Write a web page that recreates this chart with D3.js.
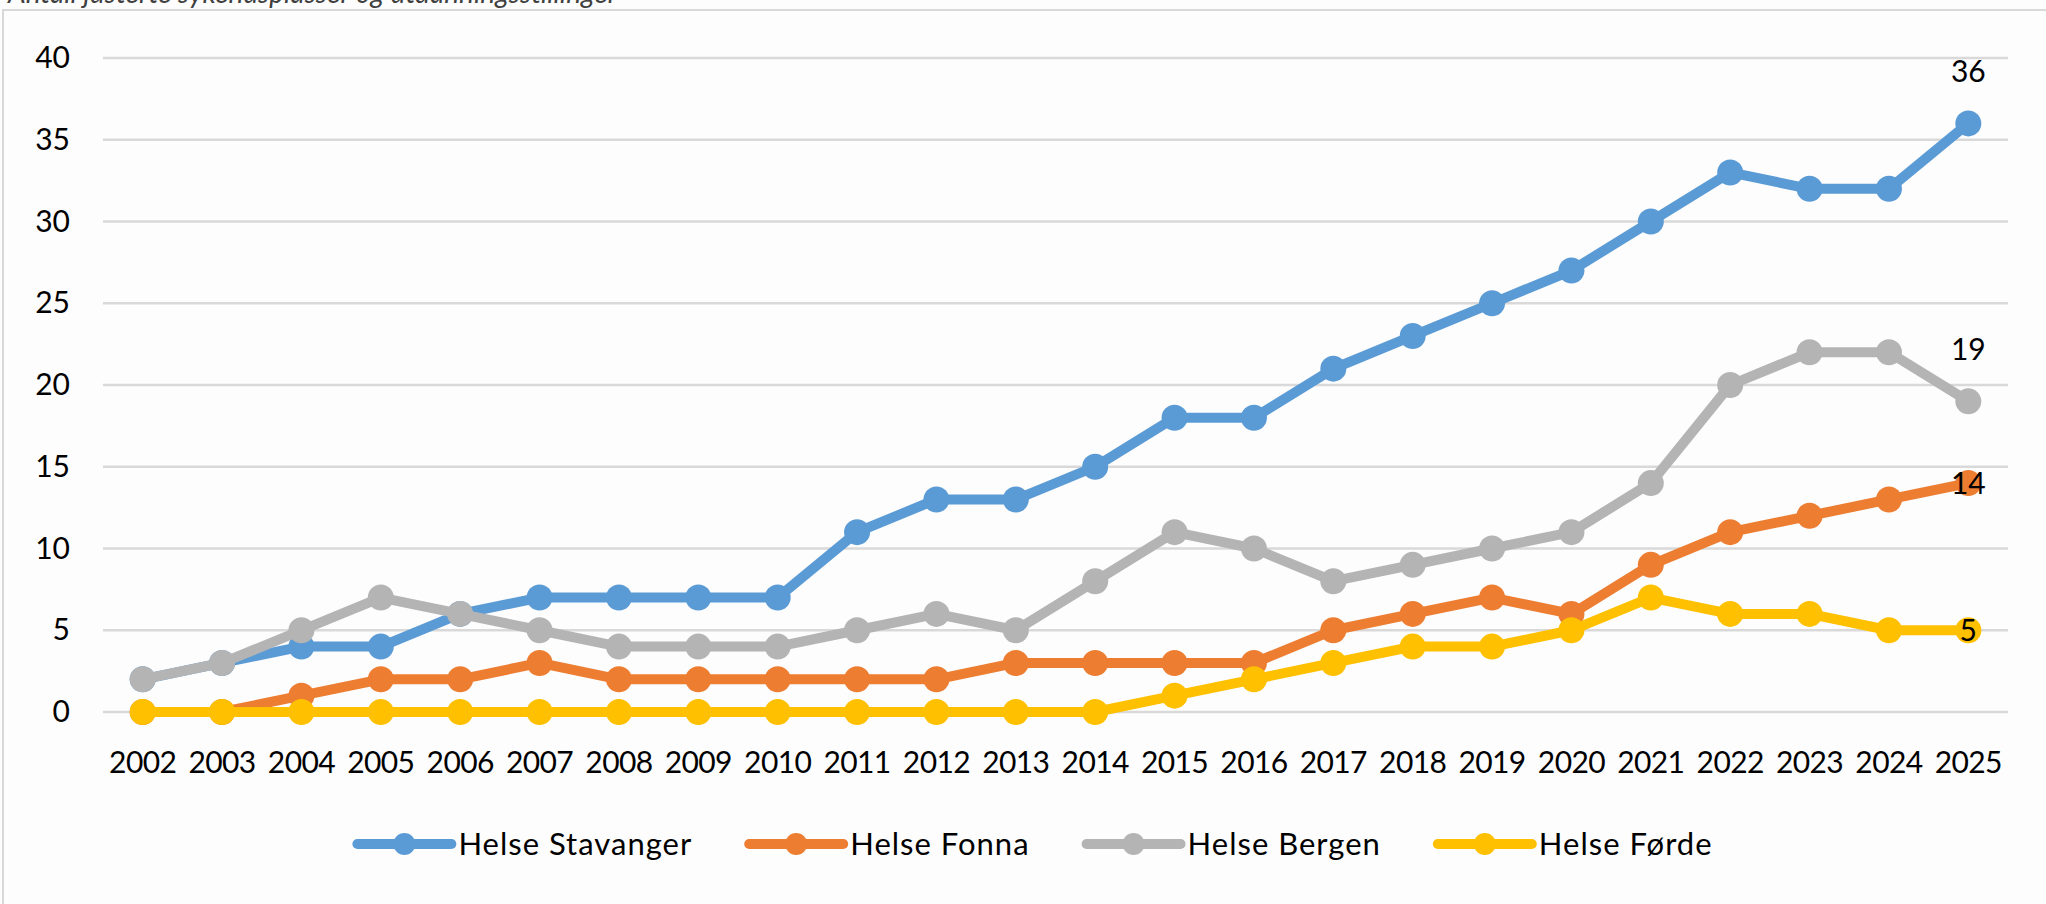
<!DOCTYPE html>
<html>
<head>
<meta charset="utf-8">
<script src="https://cdn.jsdelivr.net/npm/d3@7"></script>
<style>
  body { margin: 0; background: #fdfdfd; }
  svg text { font-family: Lato, "Open Sans", sans-serif; fill: #000; }
</style>
</head>
<body>
<div id="chart"></div>
<script>
// Chart size
const width = 2046;
const height = 904;
const margin = {left: 103, right: 38, top: 58, bottom: 192};

// Data
const years = ["2002","2003","2004","2005","2006","2007","2008","2009","2010","2011","2012","2013",
               "2014","2015","2016","2017","2018","2019","2020","2021","2022","2023","2024","2025"];
const stavanger = [2,3,4,4,6,7,7,7,7,11,13,13,15,18,18,21,23,25,27,30,33,32,32,36];
const fonna     = [0,0,1,2,2,3,2,2,2,2,2,3,3,3,3,5,6,7,6,9,11,12,13,14];
const bergen    = [2,3,5,7,6,5,4,4,4,5,6,5,8,11,10,8,9,10,11,14,20,22,22,19];
const forde     = [0,0,0,0,0,0,0,0,0,0,0,0,0,1,2,3,4,4,5,7,6,6,5,5];
const yTicks = [0,5,10,15,20,25,30,35,40];

const series = [
  {name: "Helse Stavanger", values: stavanger, color: "#5b9bd5", labelPos: "above"},
  {name: "Helse Fonna",     values: fonna,     color: "#ed7d31", labelPos: "center"},
  {name: "Helse Bergen",    values: bergen,    color: "#b4b4b4", labelPos: "above"},
  {name: "Helse Førde",     values: forde,     color: "#ffc000", labelPos: "center"}
];

const svg = d3.select("#chart")
  .append("svg")
  .attr("width", width)
  .attr("height", height);

// outer frame (only left and top edge are on screen)
svg.append("rect")
  .attr("x", 3).attr("y", 10)
  .attr("width", width + 10).attr("height", height + 10)
  .attr("fill", "#fdfdfd")
  .attr("stroke", "#d9d9d9")
  .attr("stroke-width", 2);

// caption, cut off at the top like in the source screenshot
svg.append("text")
  .attr("x", 8).attr("y", 3)
  .attr("font-size", "28px")
  .attr("font-style", "italic")
  .style("fill", "#404040")
  .text("Antall justerte sykehusplasser og utdanningsstillinger");

// Scales
const xScale = d3.scaleBand()
  .domain(years)
  .range([margin.left, width - margin.right])
  .padding(0);
const xPos = d => xScale(d) + xScale.bandwidth() / 2;

const yScale = d3.scaleLinear()
  .domain([0, 40])
  .range([height - margin.bottom, margin.top]);

// Gridlines
svg.append("g")
  .selectAll("line")
  .data(yTicks)
  .enter()
  .append("line")
  .attr("x1", margin.left)
  .attr("x2", width - margin.right)
  .attr("y1", d => yScale(d))
  .attr("y2", d => yScale(d))
  .attr("stroke", "#d9d9d9")
  .attr("stroke-width", 2.5);

// Y axis labels
const yAxis = svg.append("g")
  .attr("transform", `translate(${margin.left - 33}, 0)`)
  .call(d3.axisLeft(yScale).tickValues(yTicks).tickSize(0).tickPadding(0));
yAxis.select(".domain").remove();
yAxis.selectAll("text")
  .attr("font-size", "30px")
  .attr("font-family", "Lato, sans-serif");

// X axis labels
const xAxis = svg.append("g")
  .attr("transform", `translate(0, ${height - margin.bottom + 40})`)
  .call(d3.axisBottom(xScale).tickSize(0).tickPadding(0));
xAxis.select(".domain").remove();
xAxis.selectAll("text")
  .attr("font-size", "30px")
  .attr("font-family", "Lato, sans-serif")
  .attr("letter-spacing", "-0.6px");

// Lines and markers
const line = d3.line()
  .x((d, i) => xPos(years[i]))
  .y(d => yScale(d));

series.forEach(s => {
  const g = svg.append("g");
  g.append("path")
    .datum(s.values)
    .attr("d", line)
    .attr("fill", "none")
    .attr("stroke", s.color)
    .attr("stroke-width", 10)
    .attr("stroke-linejoin", "round");
  g.selectAll("circle")
    .data(s.values)
    .enter()
    .append("circle")
    .attr("cx", (d, i) => xPos(years[i]))
    .attr("cy", d => yScale(d))
    .attr("r", 13)
    .attr("fill", s.color);
});

// End labels
series.forEach(s => {
  const last = s.values[s.values.length - 1];
  svg.append("text")
    .attr("x", xPos(years[years.length - 1]))
    .attr("y", yScale(last) + (s.labelPos === "above" ? -41 : 11))
    .attr("text-anchor", "middle")
    .attr("font-size", "30px")
    .text(last);
});

// Legend
const legendY = 844;
const legend = svg.append("g");
let lx = 0;
series.forEach(s => {
  const item = legend.append("g").attr("transform", `translate(${lx}, 0)`);
  item.append("line")
    .attr("x1", 0).attr("x2", 94)
    .attr("y1", legendY).attr("y2", legendY)
    .attr("stroke", s.color)
    .attr("stroke-width", 10)
    .attr("stroke-linecap", "round");
  item.append("circle")
    .attr("cx", 47).attr("cy", legendY)
    .attr("r", 11)
    .attr("fill", s.color);
  const t = item.append("text")
    .attr("x", 101)
    .attr("y", legendY + 11)
    .attr("font-size", "31px")
    .attr("letter-spacing", "1px")
    .text(s.name);
  lx += 101 + t.node().getComputedTextLength() + 57;
});
const legendW = lx - 57;
legend.attr("transform", `translate(${1035 - legendW / 2}, 0)`);
</script>
</body>
</html>
